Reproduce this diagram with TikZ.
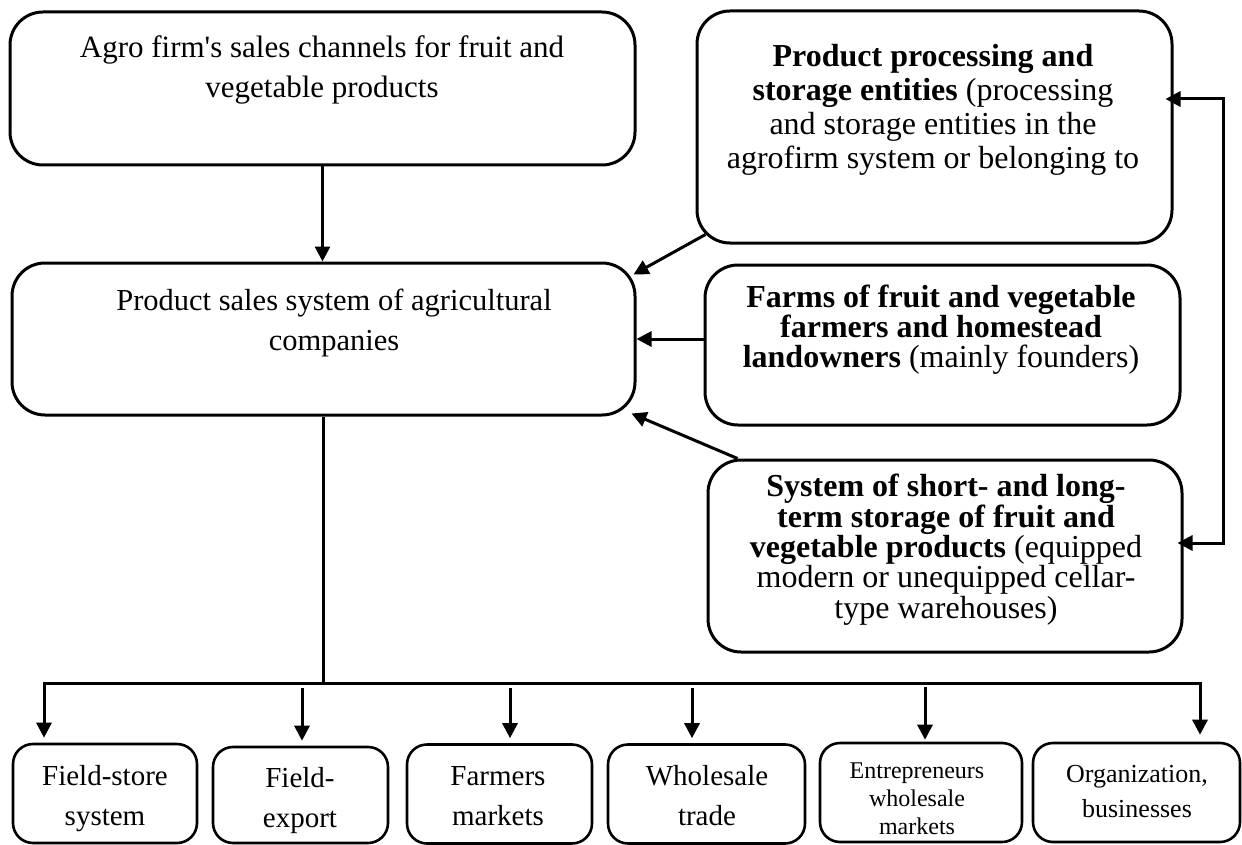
\documentclass[tikz,border=0pt]{standalone}
\usepackage{fontspec}
\newfontfamily\tnr{Liberation Serif}
\usetikzlibrary{arrows.meta}
\begin{document}
\begin{tikzpicture}[x=1pt,y=-1pt,
  bigbox/.style={draw, line width=3pt, rounded corners=33pt, inner sep=0pt},
  smallbox/.style={draw, line width=2.6pt, rounded corners=20pt, inner sep=0pt, minimum height=99pt},
  lbl/.style={align=center, inner sep=0pt, anchor=base},
  arr/.style={line width=3pt, -{Triangle[length=15pt,width=15pt]}},
  dbl/.style={line width=3pt, line join=miter,
              {Triangle[length=15pt,width=15pt]}-{Triangle[length=15pt,width=15pt]}}]
\useasboundingbox (0,0) rectangle (1242,845);

% main boxes
\node[bigbox, minimum width=625pt, minimum height=153pt] (A) at (322.5,88.5) {};
\node[bigbox, minimum width=623pt, minimum height=152pt] (B) at (323.5,339) {};
\node[bigbox, minimum width=475pt, minimum height=232pt] (C) at (934.5,127) {};
\node[bigbox, minimum width=475pt, minimum height=160pt] (D) at (942.5,345) {};
\node[bigbox, minimum width=474pt, minimum height=192pt] (E) at (945,556) {};

% their texts (each placed at the baseline of its last line)
\node[lbl, font=\tnr\fontsize{31}{40}\selectfont] (tA) at (322,98)
  {Agro firm's sales channels for fruit and\\vegetable products};
\node[lbl, font=\tnr\fontsize{30.5}{40}\selectfont] (tB) at (334,350)
  {Product sales system of agricultural\\companies};
\node[lbl, font=\tnr\fontsize{32}{34}\selectfont] (tC) at (933,169)
  {\textbf{Product processing and}\\\textbf{storage entities} (processing\\and storage entities in the\\agrofirm system or belonging to};
\node[lbl, font=\tnr\fontsize{32}{30}\selectfont] (tD) at (941,367)
  {\textbf{Farms of fruit and vegetable}\\\textbf{farmers and homestead}\\\textbf{landowners} (mainly founders)};
\node[lbl, font=\tnr\fontsize{32}{27}\selectfont] (tE) at (946,618)
  {\textbf{System of short- and long-}\\\textbf{term storage of fruit and}\\\textbf{vegetable products} (equipped\\modern or unequipped cellar-\\type warehouses)};

% sales channels
\node[smallbox, minimum width=184pt] (F1) at (105,793.5) {};
\node[smallbox, minimum width=175pt, minimum height=96pt] (F2) at (300.5,795) {};
\node[smallbox, minimum width=185pt] (F3) at (499.5,794) {};
\node[smallbox, minimum width=197pt] (F4) at (706.5,794) {};
\node[smallbox, minimum width=202pt] (F5) at (921,792.5) {};
\node[smallbox, minimum width=207pt] (F6) at (1136.5,792.5) {};

\node[lbl, font=\tnr\fontsize{29}{40}\selectfont] (t1) at (105,825) {Field-store\\system};
\node[lbl, font=\tnr\fontsize{29}{40}\selectfont] (t2) at (300,827) {Field-\\export};
\node[lbl, font=\tnr\fontsize{29}{40}\selectfont] (t3) at (498,825) {Farmers\\markets};
\node[lbl, font=\tnr\fontsize{29}{40}\selectfont] (t4) at (707,825) {Wholesale\\trade};
\node[lbl, font=\tnr\fontsize{24}{28}\selectfont] (t5) at (917,834) {Entrepreneurs\\wholesale\\markets};
\node[lbl, font=\tnr\fontsize{26}{35}\selectfont] (t6) at (1137,817) {Organization,\\businesses};

% top to sales system
\draw[arr] (A.south) -- (A.south |- B.north);

% sources feeding the sales system
\draw[arr] ([shift={(10,-10)}]C.south west) -- ([shift={(-3,13)}]B.north east);
\draw[arr] (D.west |- B.east) -- (B.east);
\draw[arr] ([xshift=31pt]E.north west) -- ([shift={(-5,-3)}]B.south east);

% link between processing and storage
\coordinate (rt) at (1223,99);
\coordinate (rb) at (1223,543);
\draw[dbl, shorten <=-8pt, shorten >=-6pt] (C.east |- rt) -- (rt) -- (rb) -- (E.east |- rb);

% distribution bus
\coordinate (busL) at (44,683);
\coordinate (busR) at (1200,683);
\draw[line width=3pt] (B.south) -- (B.south |- busL);
\draw[dbl, shorten <=5pt, shorten >=7pt] (busL |- F1.north) -- (busL) -- (busR) -- (busR |- F6.north);

\coordinate (s2) at (302,688);
\coordinate (s3) at (510,688);
\coordinate (s4) at (692,688);
\coordinate (s5) at (925,687);
\draw[arr, shorten >=5pt] (s2) -- (s2 |- F2.north);
\draw[arr, shorten >=5pt] (s3) -- (s3 |- F3.north);
\draw[arr, shorten >=5pt] (s4) -- (s4 |- F4.north);
\draw[arr, shorten >=2pt] (s5) -- (s5 |- F5.north);
\end{tikzpicture}
\end{document}
